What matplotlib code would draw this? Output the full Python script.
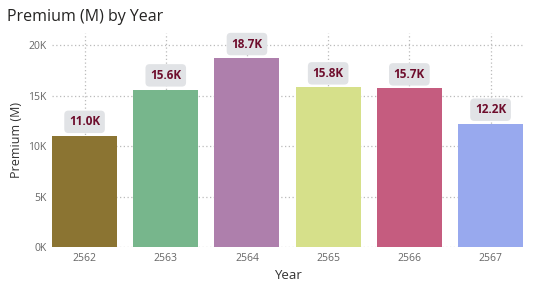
import matplotlib.pyplot as plt

years = ['2562', '2563', '2564', '2565', '2566', '2567']
premium = [11000, 15600, 18700, 15800, 15700, 12200]
colors = ['#8B7432', '#77B68C', '#AE7FAC', '#D6E08A', '#C55C7F', '#98A9EE']

plt.rcParams['font.family'] = ['Open Sans', 'DejaVu Sans']

fig = plt.figure(figsize=(5.37, 2.84), dpi=100)
ax = fig.add_axes([0.097, 0.130, 0.877, 0.754])

x = range(len(years))
ax.bar(x, premium, width=0.8, color=colors, zorder=3)

for i, v in zip(x, premium):
    ax.text(i, v + 1400, f'{v/1000:.1f}K', ha='center', va='center',
            fontsize=8.5, fontweight='bold', color='#6E0D2C', zorder=4,
            bbox=dict(boxstyle='round,pad=0.4,rounding_size=0.35',
                      fc='#E1E3E6', ec='none'))

ax.set_xlim(-0.4, 5.4)
ax.set_ylim(0, 21200)
ax.set_yticks([0, 5000, 10000, 15000, 20000])
ax.set_yticklabels(['0K', '5K', '10K', '15K', '20K'])
ax.set_xticks(list(x))
ax.set_xticklabels(years)
ax.tick_params(length=0, labelsize=7.5, colors='#666666', pad=4)

ax.grid(True, color='#BBBBBB', linestyle=(0, (1, 2)), linewidth=0.9, zorder=0)
for s in ax.spines.values():
    s.set_visible(False)

ax.set_xlabel('Year', fontsize=9.5, color='#333333', labelpad=4)
ax.set_ylabel('Premium (M)', fontsize=9, color='#333333', labelpad=4)
fig.text(0.013, 0.94, 'Premium (M) by Year', fontsize=11.5, color='#252423',
         va='center', ha='left')

fig.savefig('out.png', dpi=100)
